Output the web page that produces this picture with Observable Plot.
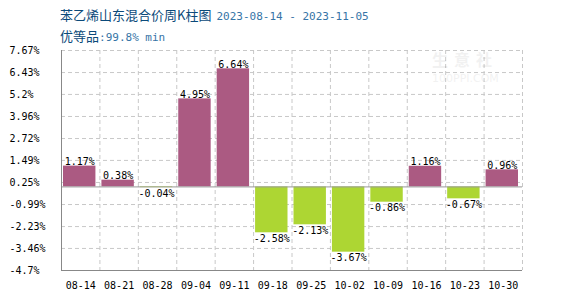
<!DOCTYPE html>
<html><head><meta charset="utf-8">
<script src="https://cdn.jsdelivr.net/npm/d3@7"></script>
<script src="https://cdn.jsdelivr.net/npm/@observablehq/plot@0.6"></script>
<style>
body{margin:0;background:#fff;width:570px;height:300px;overflow:hidden;position:relative}
#title{position:absolute;left:60px;top:5px;font:13px "Noto Sans CJK SC";color:#0b4a7a;white-space:pre}
#sub{position:absolute;left:60px;top:26px;font:13px "Noto Sans CJK SC";color:#0b4a7a;white-space:pre}
.m{font:11px "DejaVu Sans Mono";color:#3674a6}
.d{margin-left:5px}
#chart{position:absolute;left:0;top:45px}
#wm{position:absolute;left:432px;top:50px;color:#000;opacity:0.05;font:bold 16px "Noto Sans CJK SC";letter-spacing:6px;line-height:18px}
#wm2{position:absolute;left:432px;top:72px;color:#000;opacity:0.05;font:11px "DejaVu Sans";}
</style></head><body>
<div id="title">苯乙烯山东混合价周K柱图<span class="m d">2023-08-14 - 2023-11-05</span></div>
<div id="sub">优等品<span class="m">:99.8% min</span></div>
<div id="chart"></div>
<div id="wm">生意社</div>
<div id="wm2">100PPI.COM</div>
<script>
const weeks = ["08-14","08-21","08-28","09-04","09-11","09-18","09-25","10-02","10-09","10-16","10-23","10-30"];
const changes = [1.17, 0.38, -0.04, 4.95, 6.64, -2.58, -2.13, -3.67, -0.86, 1.16, -0.67, 0.96];
const yTicks = [7.67, 6.43, 5.2, 3.96, 2.72, 1.49, 0.25, -0.99, -2.23, -3.46, -4.7];

const data = weeks.map((w, i) => ({i, w, v: changes[i]}));
const pos = "#ab5a82", neg = "#add633", grid = "#c8c8c8";

const chart = Plot.plot({
  width: 570, height: 255,
  marginTop: 5, marginBottom: 30, marginLeft: 61, marginRight: 48,
  style: {fontFamily: "DejaVu Sans Mono", fontSize: "10px", color: "#000", background: "#fff", overflow: "visible"},
  x: {type: "linear", domain: [0, weeks.length]},
  y: {domain: [yTicks[yTicks.length - 1], yTicks[0]]},
  marks: [
    Plot.ruleY(yTicks.slice(0, -1), {stroke: grid, strokeDasharray: "4,3"}),
    Plot.ruleX(d3.range(1, weeks.length + 1), {stroke: grid, strokeDasharray: "4,3"}),
    Plot.rect(data, {x1: "i", x2: d => d.i + 1, y1: () => 0, y2: "v", fill: d => d.v >= 0 ? pos : neg, insetLeft: 2, insetRight: 4}),
    Plot.ruleY([0], {stroke: "#999"}),
    Plot.ruleX([0], {stroke: "#888"}),
    Plot.ruleY([yTicks[yTicks.length - 1]], {stroke: "#888"}),
    Plot.text(data.filter(d => d.v >= 0), {x: d => d.i + 0.5, y: "v", text: d => d.v.toFixed(2) + "%", lineAnchor: "bottom", dy: -1, dx: -1, fill: "#000"}),
    Plot.text(data.filter(d => d.v < 0), {x: d => d.i + 0.5, y: "v", text: d => d.v.toFixed(2) + "%", lineAnchor: "top", dy: 2, dx: -1, fill: "#000"}),
    Plot.axisY(yTicks, {tickSize: 0, tickPadding: 0, textAnchor: "start", dx: -52, tickFormat: d => d + "%", label: null}),
    Plot.axisX(data.map(d => d.i + 0.5), {tickSize: 0, tickPadding: 11, tickFormat: d => weeks[Math.floor(d)], label: null})
  ]
});
document.getElementById("chart").appendChild(chart);
</script>
</body></html>
